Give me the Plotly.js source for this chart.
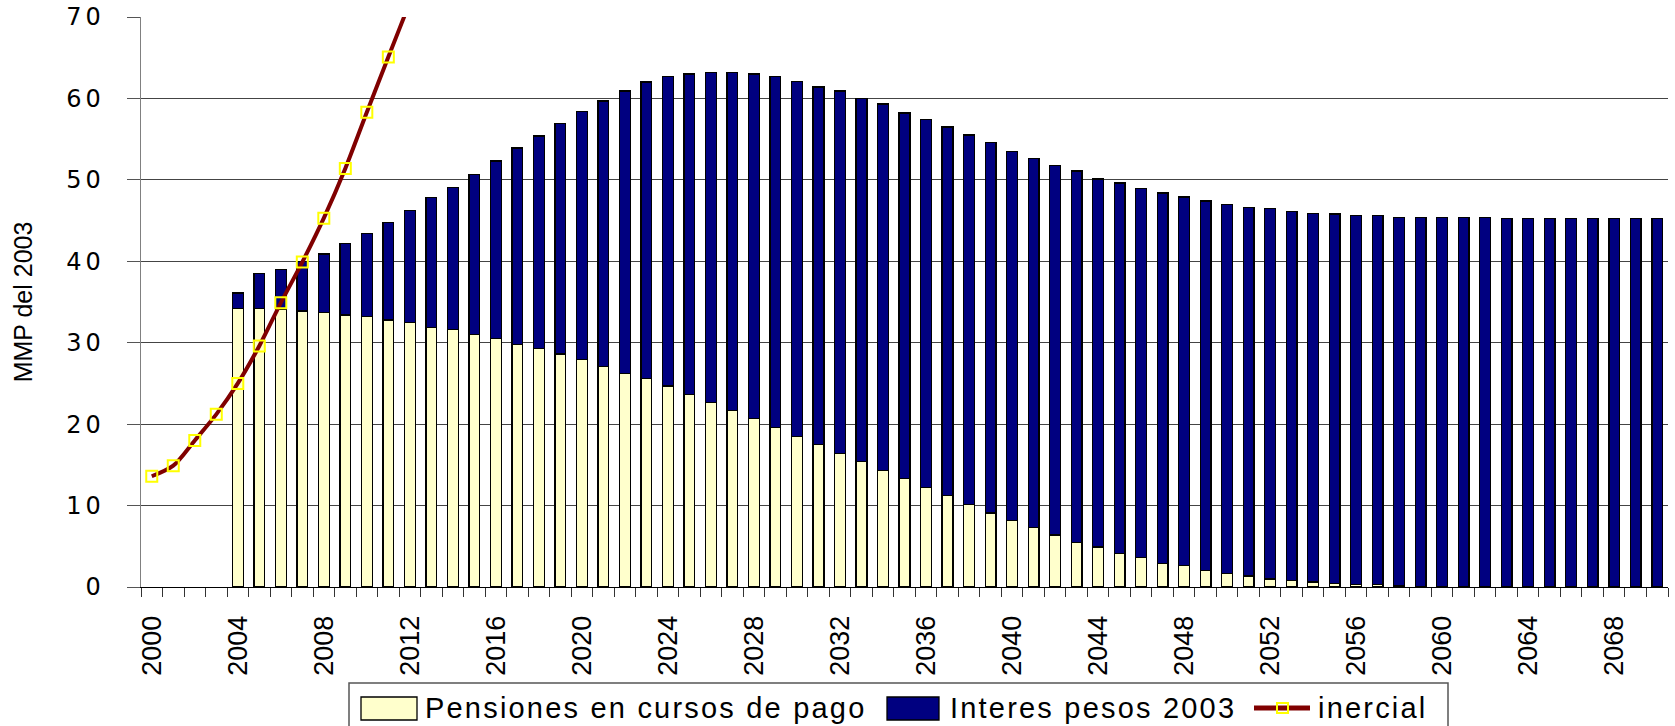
<!DOCTYPE html>
<html>
<head>
<meta charset="utf-8">
<script src="https://cdn.plot.ly/plotly-3.0.1.min.js"></script>
<style>
  html, body { margin: 0; padding: 0; background: #fff; }
  #grafica { width: 1675px; height: 726px; }
  .annotation-text { letter-spacing: 2.2px; }
  .ytick text { letter-spacing: 4px; }
</style>
</head>
<body>
<div id="grafica"></div>
<script>
// Años (categorías del eje x)
const anios = [
  2000, 2001, 2002, 2003, 2004, 2005, 2006, 2007, 2008, 2009,
  2010, 2011, 2012, 2013, 2014, 2015, 2016, 2017, 2018, 2019,
  2020, 2021, 2022, 2023, 2024, 2025, 2026, 2027, 2028, 2029,
  2030, 2031, 2032, 2033, 2034, 2035, 2036, 2037, 2038, 2039,
  2040, 2041, 2042, 2043, 2044, 2045, 2046, 2047, 2048, 2049,
  2050, 2051, 2052, 2053, 2054, 2055, 2056, 2057, 2058, 2059,
  2060, 2061, 2062, 2063, 2064, 2065, 2066, 2067, 2068, 2069,
  2070
];

// MMP del 2003
const pensiones = [
  null, null, null, null, 34.2, 34.2, 34.1, 33.9, 33.7, 33.4,
  33.2, 32.8, 32.5, 31.9, 31.6, 31.0, 30.5, 29.8, 29.3, 28.6,
  27.9, 27.1, 26.2, 25.6, 24.7, 23.6, 22.7, 21.7, 20.7, 19.6,
  18.5, 17.5, 16.4, 15.4, 14.3, 13.3, 12.2, 11.2, 10.1, 9.1,
  8.2, 7.3, 6.4, 5.5, 4.9, 4.1, 3.6, 2.9, 2.6, 2.0,
  1.7, 1.35, 1.0, 0.8, 0.6, 0.45, 0.3, 0.3, 0.12, 0.08,
  0.05, 0, 0, 0, 0, 0, 0, 0, 0, 0,
  0
];

const interes = [
  null, null, null, null, 1.9, 4.3, 4.9, 6.1, 7.2, 8.8,
  10.2, 12.0, 13.7, 15.9, 17.5, 19.7, 21.8, 24.1, 26.1, 28.3,
  30.5, 32.6, 34.7, 36.4, 38.0, 39.4, 40.5, 41.5, 42.3, 43.1,
  43.6, 43.9, 44.5, 44.6, 45.0, 44.9, 45.2, 45.3, 45.4, 45.5,
  45.3, 45.3, 45.4, 45.6, 45.2, 45.5, 45.3, 45.5, 45.3, 45.4,
  45.3, 45.25, 45.5, 45.3, 45.3, 45.35, 45.3, 45.3, 45.28, 45.32,
  45.35, 45.4, 45.4, 45.25, 45.25, 45.25, 45.25, 45.25, 45.25, 45.25,
  45.25
];

// serie inercial (sale del gráfico después de 2011)
const inercial = [13.6, 14.9, 18.0, 21.2, 25.0, 29.6, 34.9, 39.9, 45.3, 51.4, 58.3, 65.1, 71.8, 78.6];

const etiquetasX = anios.filter((a, i) => i % 4 === 0);
const nombres = ['Pensiones en cursos de pago', 'Interes pesos 2003', 'inercial'];

const AMARILLO = '#FFFFCC';
const AZUL = '#000080';
const GRANATE = '#800000';

// márgenes del área de trazado en pixeles
const M = { l: 141, r: 7, t: 17, b: 139 };
const W = 1675, H = 726;
const pw = W - M.l - M.r, ph = H - M.t - M.b;
const px = x => (x - M.l) / pw;
const py = y => (H - M.b - y) / ph;

const trazas = [
  {
    type: 'bar', name: nombres[0], x: anios, y: pensiones,
    marker: { color: AMARILLO, line: { color: '#000', width: 1.3 } }
  },
  {
    type: 'bar', name: nombres[1], x: anios, y: interes,
    marker: { color: AZUL, line: { color: '#000', width: 1.3 } }
  },
  {
    type: 'scatter', mode: 'lines+markers', name: nombres[2],
    x: anios.slice(0, inercial.length), y: inercial,
    line: { color: GRANATE, width: 4, shape: 'spline', smoothing: 0.8 },
    marker: { symbol: 'square-open', size: 11, color: '#FFFF00', line: { width: 2 } }
  }
];

// leyenda dibujada a mano
const fuenteLeyenda = { family: "'Liberation Sans', Arial, sans-serif", size: 29, color: '#000' };
const yLey = 708;
const shapes = [
  { type: 'rect', xref: 'paper', yref: 'paper', x0: px(349), x1: px(1448), y0: py(683), y1: py(760),
    line: { color: '#555', width: 1.5 }, fillcolor: '#fff', layer: 'below' },
  { type: 'rect', xref: 'paper', yref: 'paper', x0: px(361), x1: px(417), y0: py(697), y1: py(720),
    line: { color: '#000', width: 1.3 }, fillcolor: AMARILLO },
  { type: 'rect', xref: 'paper', yref: 'paper', x0: px(887), x1: px(939), y0: py(697), y1: py(720),
    line: { color: '#000', width: 1.3 }, fillcolor: AZUL },
  { type: 'line', xref: 'paper', yref: 'paper', x0: px(1254), x1: px(1310), y0: py(yLey), y1: py(yLey),
    line: { color: GRANATE, width: 5 } },
  { type: 'rect', xref: 'paper', yref: 'paper', x0: px(1277), x1: px(1288), y0: py(yLey - 5), y1: py(yLey + 5),
    line: { color: '#FFFF00', width: 2 } }
];
const annotations = [
  { text: nombres[0], x: px(423), y: py(yLey) },
  { text: nombres[1], x: px(948), y: py(yLey) },
  { text: nombres[2], x: px(1316), y: py(yLey) }
].map(a => Object.assign(a, {
  xref: 'paper', yref: 'paper', xanchor: 'left', yanchor: 'middle',
  showarrow: false, font: fuenteLeyenda
}));

const layout = {
  width: W, height: H,
  margin: M,
  paper_bgcolor: '#fff', plot_bgcolor: '#fff',
  barmode: 'stack', bargap: 0.5,
  showlegend: false,
  font: { family: "'Liberation Sans', Arial, sans-serif", color: '#000' },
  xaxis: {
    range: [1999.5, 2070.5],
    tickmode: 'array', tickvals: etiquetasX, ticktext: etiquetasX.map(String),
    tickangle: -90, tickfont: { size: 27 },
    ticks: 'outside', ticklen: 9, tickcolor: 'rgba(0,0,0,0)', ticklabelstandoff: 8,
    minor: { tick0: 1999.5, dtick: 1, ticks: 'outside', ticklen: 9, tickcolor: '#333', tickwidth: 1, showgrid: false },
    showline: true, linecolor: '#000', linewidth: 1,
    showgrid: false, zeroline: false, fixedrange: true
  },
  yaxis: {
    range: [0, 70], dtick: 10,
    title: { text: 'MMP del 2003', font: { size: 25 }, standoff: 26 },
    tickfont: { family: "'DejaVu Sans', sans-serif", size: 24 },
    ticks: 'outside', ticklen: 13, tickcolor: '#555', ticklabelstandoff: 17,
    showline: true, linecolor: '#808080', linewidth: 1.5,
    showgrid: true, gridcolor: '#444', gridwidth: 1,
    zeroline: false, fixedrange: true
  },
  shapes: shapes,
  annotations: annotations
};

Plotly.newPlot('grafica', trazas, layout, { staticPlot: true });
</script>
</body>
</html>
